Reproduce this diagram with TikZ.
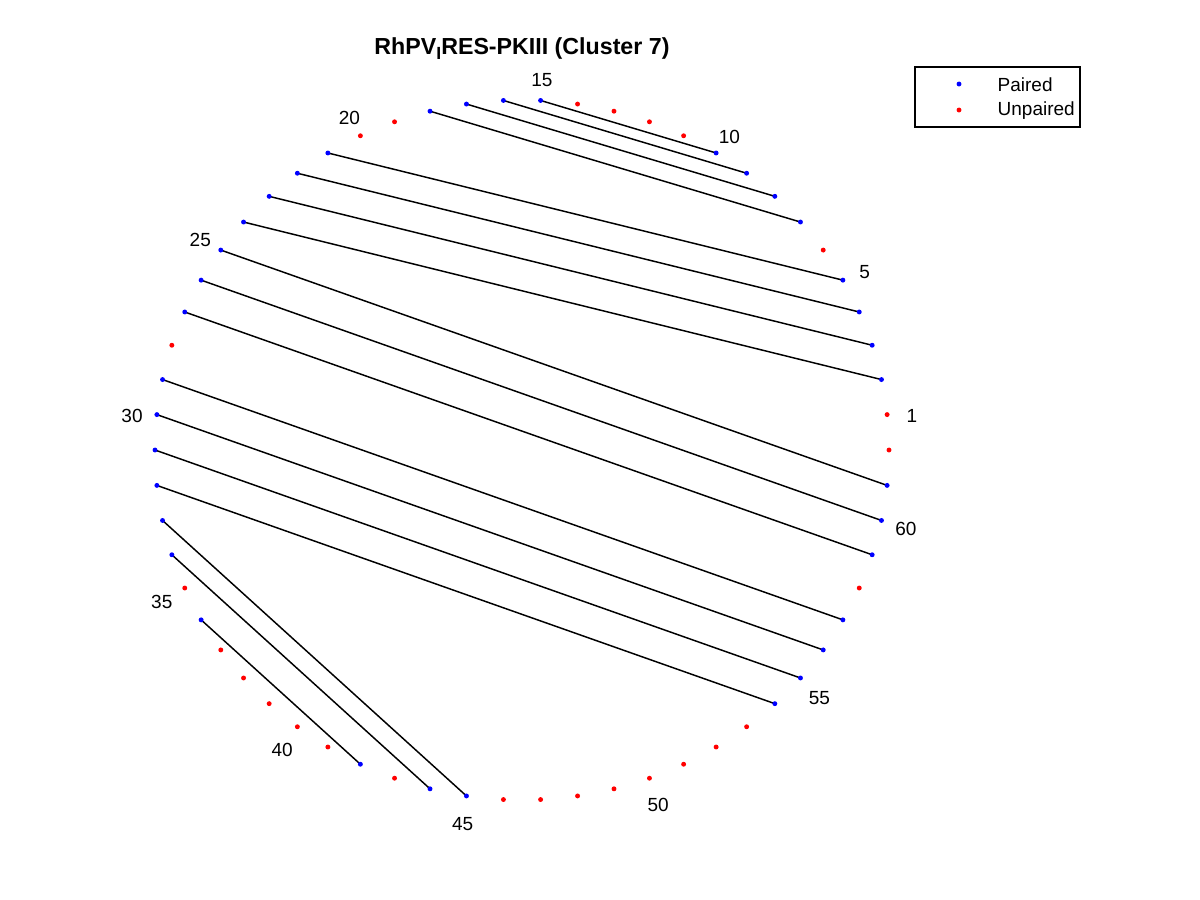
\documentclass[tikz,border=0pt]{standalone}
\usepackage{fontspec}
\setmainfont{Liberation Sans}
\tikzset{
  pairline/.style={black, line width=0.42pt},
  basedot/.style={radius=0.7pt},
  idxlabel/.style={inner sep=0pt},
}
\begin{document}
\begin{tikzpicture}[x=0.01cm, y=-0.01cm, font=\fontsize{5.4}{6}\selectfont]
    \useasboundingbox (0,0) rectangle (1200,900);

    % bases on the ring (62 bases, 360/62 degrees apart)
    \foreach \k in {1,...,62}
        \coordinate (p\k) at ({522+367*cos(\k*5.80645)}, {450-350*sin(\k*5.80645)});

    % base pairs
    \foreach \a/\b in {2/24,3/23,4/22,5/21,7/18,8/17,9/16,10/15,25/61,26/60,27/59,29/57,30/56,31/55,32/54,33/45,34/44,36/42}
        \draw[pairline] (p\a) -- (p\b);

    % paired and unpaired bases
    \foreach \k in {2,3,4,5,7,8,9,10,15,16,17,18,21,22,23,24,25,26,27,29,30,31,32,33,34,36,42,44,45,54,55,56,57,59,60,61}
        \fill[blue, basedot] (p\k) circle;
    \foreach \k in {1,6,11,12,13,14,19,20,28,35,37,38,39,40,41,43,46,47,48,49,50,51,52,53,58,62}
        \fill[red, basedot] (p\k) circle;

    % index labels
    \foreach \k in {1,5,10,15,20,25,30,35,40,45,50,55,60}
        \node[idxlabel] (n\k) at ({522+392*cos(\k*5.80645)}, {454-374*sin(\k*5.80645)}) {\k};

    % title
    \node (title) at (522,49) {\bfseries\fontsize{6.6}{7.5}\selectfont RhPV\raisebox{-1.4pt}{\fontsize{5}{5.5}\selectfont I}RES-PKIII (Cluster 7)};

    % legend
    \draw[line width=0.35pt] (915,67) rectangle (1080,127);
    \fill[blue, basedot] (959,84) circle;
    \fill[red, basedot] (959,110) circle;
    \node[idxlabel, anchor=west] (keypaired) at (997,85) {Paired};
    \node[idxlabel, anchor=west] (keyunpaired) at (997,111) {Unpaired};
\end{tikzpicture}
\end{document}
